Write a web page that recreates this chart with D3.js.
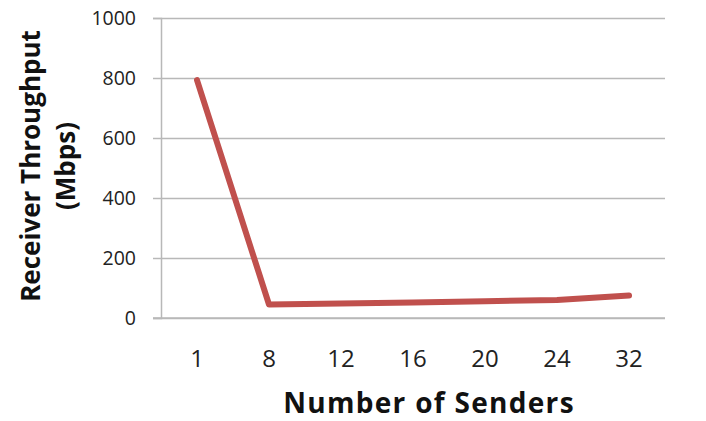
<!DOCTYPE html>
<html>
<head>
<meta charset="utf-8">
<script src="https://cdn.jsdelivr.net/npm/d3@7"></script>
<style>
  body { margin: 0; background: #fff; }
  text { font-family: "Open Sans", Lato, sans-serif; }
</style>
</head>
<body>
<div id="chart"></div>
<script>
"use strict";

// === Data ===
const senders = ["1", "8", "12", "16", "20", "24", "32"];
const throughput = [793, 45, 48, 52, 56, 60, 75]; // Mbps
const yTicks = [0, 200, 400, 600, 800, 1000];

// === SVG setup ===
const svgWidth = 706, svgHeight = 421;
const margin = { top: 18, right: 41, bottom: 103, left: 161 };

const svg = d3.select("#chart")
  .append("svg")
  .attr("width", svgWidth)
  .attr("height", svgHeight);

// === Scales ===
const xScale = d3.scaleBand()
  .domain(senders)
  .range([margin.left, svgWidth - margin.right]);

const yScale = d3.scaleLinear()
  .domain([0, 1000])
  .range([svgHeight - margin.bottom, margin.top]);

// === Gridlines ===
svg.append("g")
  .attr("transform", `translate(${margin.left}, 0)`)
  .call(d3.axisLeft(yScale)
    .tickValues(yTicks)
    .tickSize(-(svgWidth - margin.right - margin.left))
    .tickFormat(""))
  .call(g => g.select(".domain").remove())
  .call(g => g.selectAll("line").attr("stroke", "#b8b8b8").attr("stroke-width", 1.5));

// === Y axis ===
svg.append("g")
  .attr("transform", `translate(${margin.left}, 0)`)
  .call(d3.axisLeft(yScale).tickValues(yTicks).tickFormat(d3.format("d")).tickSize(8).tickPadding(17))
  .call(g => g.select(".domain").attr("stroke", "#b8b8b8").attr("stroke-width", 1.5))
  .call(g => g.selectAll("line").attr("stroke", "#b8b8b8").attr("stroke-width", 1.5))
  .call(g => g.selectAll("text")
    .attr("font-size", "19.5px")
    .attr("fill", "#222")
    .style("font-family", "'Open Sans', sans-serif"));

// === X axis ===
svg.append("g")
  .attr("transform", `translate(0, ${svgHeight - margin.bottom})`)
  .call(d3.axisBottom(xScale).tickSize(0).tickPadding(32))
  .call(g => g.select(".domain").remove())
  .call(g => g.selectAll("text")
    .attr("font-size", "24px")
    .attr("fill", "#222")
    .style("font-family", "'Open Sans', sans-serif"));

// baseline
svg.append("line")
  .attr("x1", margin.left - 8)
  .attr("x2", svgWidth - margin.right)
  .attr("y1", yScale(0))
  .attr("y2", yScale(0))
  .attr("stroke", "#b8b8b8")
  .attr("stroke-width", 1.5);

// === Line ===
const line = d3.line()
  .x((d, i) => xScale(senders[i]) + xScale.bandwidth() / 2)
  .y(d => yScale(d));

svg.append("path")
  .datum(throughput)
  .attr("d", line)
  .attr("fill", "none")
  .attr("stroke", "#c0504d")
  .attr("stroke-width", 6)
  .attr("stroke-linecap", "round")
  .attr("stroke-linejoin", "round");

// === Axis titles ===
svg.append("text")
  .attr("x", 429)
  .attr("y", 413)
  .attr("text-anchor", "middle")
  .attr("font-size", "28px")
  .attr("font-weight", "bold")
  .attr("letter-spacing", "1.3px")
  .attr("fill", "#111")
  .text("Number of Senders");

const yTitle = svg.append("text")
  .attr("transform", "translate(0, 166) rotate(-90)")
  .attr("text-anchor", "middle")
  .attr("font-size", "26px")
  .attr("font-weight", "bold")
  .attr("fill", "#111");

yTitle.append("tspan").attr("x", 0).attr("y", 40).text("Receiver Throughput");
yTitle.append("tspan").attr("x", 0).attr("y", 75).text("(Mbps)");
</script>
</body>
</html>
